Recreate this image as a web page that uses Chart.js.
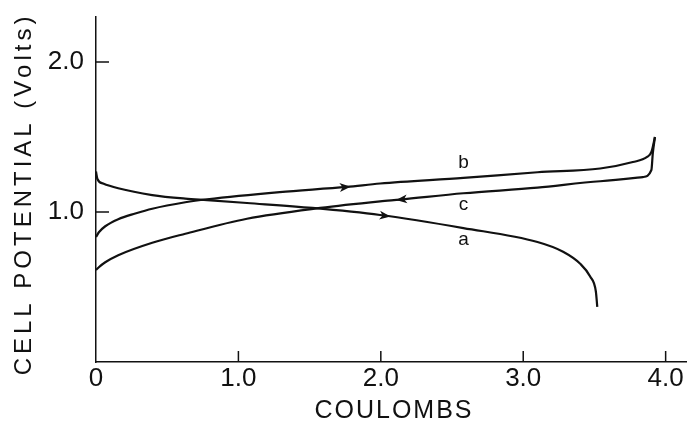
<!DOCTYPE html>
<html>
<head>
<meta charset="utf-8">
<script src="https://cdn.jsdelivr.net/npm/chart.js@4"></script>
<style>
  html, body { margin: 0; padding: 0; background: #fff; }
  #wrap { width: 687px; height: 423px; }
</style>
</head>
<body>
<div id="wrap"><canvas id="cellChart" width="687" height="423"></canvas></div>
<script>
// data (coulombs, volts)
const coulombsA = [0, 0.01, 0.05, 0.156, 0.395, 0.627, 0.78, 1.06, 1.52, 1.995, 2.58, 3.10, 3.28, 3.40, 3.47, 3.51, 3.52];
const voltsA    = [1.27, 1.22, 1.19, 1.158, 1.113, 1.089, 1.079, 1.06, 1.027, 0.98, 0.893, 0.80, 0.735, 0.655, 0.57, 0.47, 0.367];

const coulombsB = [0, 0.02, 0.065, 0.156, 0.276, 0.395, 0.627, 0.78, 1.29, 1.76, 1.995, 2.58, 3.10, 3.54, 3.77, 3.87, 3.90, 3.925];
const voltsB    = [0.833, 0.865, 0.905, 0.952, 0.99, 1.022, 1.065, 1.085, 1.133, 1.167, 1.19, 1.227, 1.265, 1.29, 1.333, 1.367, 1.40, 1.50];

const coulombsC = [0, 0.02, 0.065, 0.156, 0.395, 0.627, 1.06, 1.574, 1.995, 2.135, 2.58, 3.10, 3.54, 3.84, 3.90, 3.91, 3.925];
const voltsC    = [0.613, 0.632, 0.665, 0.712, 0.795, 0.855, 0.955, 1.027, 1.071, 1.083, 1.125, 1.162, 1.205, 1.233, 1.28, 1.393, 1.50];

const curveNames = ['a', 'b', 'c'];
const xTicks = [0, 1, 2, 3, 4];
const yTicks = [1, 2];

// arrow positions along each curve (x in coulombs, dir +1 right / -1 left)
const arrowAt = [2.04, 1.76, 2.135];
const arrowDir = [1, 1, -1];

const toPoints = (xs, ys) => xs.map((x, i) => ({ x: x, y: ys[i] }));
const seriesX = [coulombsA, coulombsB, coulombsC];
const seriesY = [voltsA, voltsB, voltsC];

const FONT = '"Liberation Sans", Arial, sans-serif';

function interpY(xs, ys, x) {
  for (let i = 1; i < xs.length; i++) {
    if (x <= xs[i]) {
      const t = (x - xs[i - 1]) / (xs[i] - xs[i - 1]);
      return ys[i - 1] + t * (ys[i] - ys[i - 1]);
    }
  }
  return ys[ys.length - 1];
}

const decorPlugin = {
  id: 'decor',
  afterDraw(chart) {
    const ctx = chart.ctx;
    const xs = chart.scales.x, ys = chart.scales.y;
    const area = chart.chartArea;
    ctx.save();
    ctx.strokeStyle = '#111';
    ctx.fillStyle = '#111';
    ctx.lineWidth = 1.5;

    // tick marks point inward
    yTicks.forEach(v => {
      const py = ys.getPixelForValue(v);
      ctx.beginPath(); ctx.moveTo(area.left, py); ctx.lineTo(area.left + 13, py); ctx.stroke();
    });
    xTicks.slice(1).forEach(v => {
      const px = xs.getPixelForValue(v);
      ctx.beginPath(); ctx.moveTo(px, area.bottom); ctx.lineTo(px, area.bottom - 11); ctx.stroke();
    });

    // arrowheads
    arrowAt.forEach((ax, i) => {
      const d = arrowDir[i];
      const y1 = interpY(seriesX[i], seriesY[i], ax);
      const y0 = interpY(seriesX[i], seriesY[i], ax - 0.1 * d);
      const p1 = { x: xs.getPixelForValue(ax), y: ys.getPixelForValue(y1) };
      const p0 = { x: xs.getPixelForValue(ax - 0.1 * d), y: ys.getPixelForValue(y0) };
      const ang = Math.atan2(p1.y - p0.y, p1.x - p0.x);
      ctx.save();
      ctx.translate(p1.x, p1.y);
      ctx.rotate(ang);
      ctx.beginPath();
      ctx.moveTo(4, 0);
      ctx.lineTo(-7, -4.5);
      ctx.lineTo(-4, 0);
      ctx.lineTo(-7, 4.5);
      ctx.closePath();
      ctx.fill();
      ctx.restore();
    });

    // curve letters
    ctx.font = '19px ' + FONT;
    ctx.textAlign = 'center';
    ctx.textBaseline = 'middle';
    const labelPos = [[2.58, 0.815], [2.58, 1.33], [2.58, 1.05]];
    curveNames.forEach((n, i) => {
      ctx.fillText(n, xs.getPixelForValue(labelPos[i][0]), ys.getPixelForValue(labelPos[i][1]));
    });

    // axis titles
    ctx.font = '25px ' + FONT;
    ctx.letterSpacing = '2px';
    ctx.fillText('COULOMBS', 394, 411);
    ctx.save();
    ctx.translate(24, 194);
    ctx.rotate(-Math.PI / 2);
    ctx.font = '24px ' + FONT;
    ctx.letterSpacing = '4px';
    ctx.fillText('CELL POTENTIAL (Volts)', 0, 0);
    ctx.restore();
    ctx.restore();
  }
};

const lineStyle = {
  borderColor: '#111', borderWidth: 2.2, pointRadius: 0, showLine: true, fill: false,
  cubicInterpolationMode: 'monotone'
};

new Chart(document.getElementById('cellChart').getContext('2d'), {
  type: 'scatter',
  data: {
    datasets: curveNames.map((n, i) => Object.assign({ label: n, data: toPoints(seriesX[i], seriesY[i]) }, lineStyle))
  },
  options: {
    responsive: false,
    animation: false,
    layout: { padding: { left: 0, top: 17, right: 0, bottom: 0 } },
    plugins: { legend: { display: false }, tooltip: { enabled: false } },
    scales: {
      x: {
        type: 'linear', min: 0, max: 4.15,
        afterBuildTicks: s => { s.ticks = xTicks.map(v => ({ value: v })); },
        afterFit: s => { s.height = 61; s.paddingLeft = 0; s.paddingRight = 0; },
        grid: { display: false, drawTicks: false },
        border: { display: true, color: '#111', width: 1.5 },
        ticks: {
          padding: 1, color: '#111', font: { family: FONT, size: 26 },
          callback: v => v === 0 ? '0' : v.toFixed(1)
        }
      },
      y: {
        type: 'linear', min: 0, max: 2.3,
        afterBuildTicks: s => { s.ticks = yTicks.map(v => ({ value: v })); },
        afterFit: s => { s.width = 96; s.paddingTop = 0; s.paddingBottom = 0; },
        grid: { display: false, drawTicks: false },
        border: { display: true, color: '#111', width: 1.5 },
        ticks: {
          padding: 12, color: '#111', font: { family: FONT, size: 26 },
          callback: v => v.toFixed(1)
        }
      }
    }
  },
  plugins: [decorPlugin]
});
</script>
</body>
</html>
